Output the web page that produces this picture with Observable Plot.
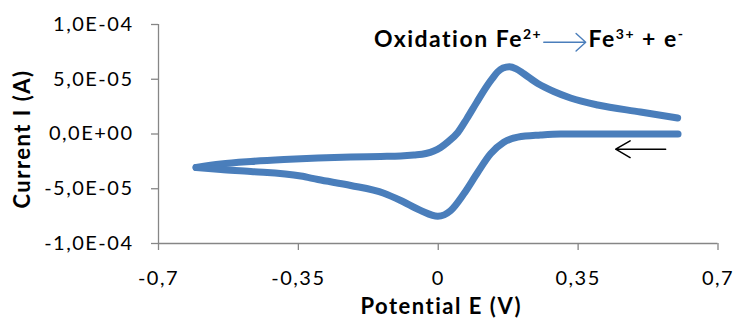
<!DOCTYPE html>
<html><head><meta charset="utf-8">
<script src="https://cdn.jsdelivr.net/npm/d3@7"></script>
<script src="https://cdn.jsdelivr.net/npm/@observablehq/plot@0.6"></script>
<style>
body{margin:0;background:#fff;}
#chart svg text{letter-spacing:1.5px;}
</style></head><body><div id="chart"></div>
<script>
// Forward (oxidation) scan, -0.6 V -> +0.6 V
const forwardE = [-0.606,-0.544,-0.469,-0.386,-0.301,-0.219,-0.144,-0.094,-0.061,-0.031,-0.011,0.006,0.024,0.049,0.071,0.096,0.121,0.135,0.148,0.162,0.178,0.195,0.214,0.249,0.289,0.331,0.399,0.506,0.599];
const forwardI = [-3.06e-5,-2.74e-5,-2.51e-5,-2.33e-5,-2.19e-5,-2.10e-5,-2.05e-5,-2.01e-5,-1.92e-5,-1.78e-5,-1.55e-5,-1.23e-5,-0.73e-5,0.14e-5,1.37e-5,2.88e-5,4.34e-5,5.05e-5,5.65e-5,6.02e-5,6.14e-5,5.95e-5,5.50e-5,4.61e-5,3.88e-5,3.29e-5,2.65e-5,2.01e-5,1.46e-5];
// Reverse (reduction) scan, +0.6 V -> -0.6 V
const reverseE = [0.600,0.506,0.406,0.306,0.256,0.199,0.164,0.131,0.099,0.064,0.031,-0.001,-0.044,-0.094,-0.136,-0.219,-0.301,-0.344,-0.469,-0.544,-0.606];
const reverseI = [0.00,0.00,0.00,0.00,-0.09e-5,-0.29e-5,-0.75e-5,-1.81e-5,-3.49e-5,-5.46e-5,-6.99e-5,-7.51e-5,-6.99e-5,-6.07e-5,-5.41e-5,-4.70e-5,-4.16e-5,-3.84e-5,-3.42e-5,-3.24e-5,-3.06e-5];

const xTicks = [-0.7,-0.35,0,0.35,0.7];
const xTickLabels = ["-0,7","-0,35","0","0,35","0,7"];
const yTicks = [-1e-4,-5e-5,0,5e-5,1e-4];
const yTickLabels = ["-1,0E-04","-5,0E-05","0,0E+00","5,0E-05","1,0E-04"];
const xTitle = "Potential E (V)";
const yTitle = "Current I (A)";
const labelE = [-0.161, 0.376];
const labelI = [7.93e-5, 7.93e-5];
const labelText = ["Oxidation Fe^{2+}", "Fe^{3+} + e^{-}"];
const reactionArrow = {E1: 0.264, E2: 0.369, I: 8.38e-5};
const scanArrow = {E1: 0.569, E2: 0.444, I: -1.39e-5};

const points = forwardE.map((E, i) => ({E, I: forwardI[i], scan: "forward"}))
  .concat(reverseE.map((E, i) => ({E, I: reverseI[i], scan: "reverse"})));
const labels = labelText.map((t, i) => ({E: labelE[i], I: labelI[i], t}));

const axisGray = "#868686";
const chart = Plot.plot({
  width: 735, height: 321,
  marginLeft: 158, marginRight: 17.5, marginTop: 24, marginBottom: 78,
  style: {fontFamily: "Lato, sans-serif", fontSize: "20px", color: "#000", background: "#fff", overflow: "visible"},
  x: {domain: [-0.7, 0.7]},
  y: {domain: [-1e-4, 1e-4]},
  marks: [
    Plot.ruleX([-0.7], {stroke: axisGray, strokeWidth: 1.3}),
    Plot.ruleY([-1e-4], {stroke: axisGray, strokeWidth: 1.3}),
    Plot.axisY({ticks: yTicks, tickFormat: d => yTickLabels[yTicks.indexOf(d)], tickSize: 7, tickPadding: 18, stroke: axisGray, strokeWidth: 1.3, fill: "#000", label: null}),
    Plot.axisX({ticks: xTicks, tickFormat: d => xTickLabels[xTicks.indexOf(d)], tickSize: 7, tickPadding: 20, stroke: axisGray, strokeWidth: 1.3, fill: "#000", label: null}),
    Plot.text([xTitle], {text: d => d, frameAnchor: "bottom", textAnchor: "middle", lineAnchor: "bottom", dx: 3, dy: 70, fontWeight: "bold", fontSize: 22, fill: "#000"}),
    Plot.text([yTitle], {text: d => d, frameAnchor: "left", textAnchor: "middle", rotate: -90, lineAnchor: "middle", dx: -136, dy: 5, fontWeight: "bold", fontSize: 22, fill: "#000"}),
    Plot.line(points, {x: "E", y: "I", z: "scan", stroke: "#4a7ebb", strokeWidth: 7, curve: "monotone-x", strokeLinecap: "round", strokeLinejoin: "round"}),
    Plot.text(labels, {x: "E", y: "I", text: "t", textAnchor: "start", lineAnchor: "bottom", fontWeight: "bold", fontSize: 23, fill: "#000"}),
    Plot.arrow([reactionArrow], {x1: "E1", x2: "E2", y1: "I", y2: "I", stroke: "#4a7ebb", strokeWidth: 1.4, headAngle: 85, headLength: 14}),
    Plot.arrow([scanArrow], {x1: "E1", x2: "E2", y1: "I", y2: "I", stroke: "#000", strokeWidth: 1.5, headAngle: 60, headLength: 20})
  ]
});
document.getElementById("chart").appendChild(chart);

// Render ^{...} as superscripts
d3.select(chart).selectAll("text").each(function() {
  const t = this.textContent;
  if (!t.includes("^{")) return;
  const sel = d3.select(this);
  sel.text("");
  const parts = t.split(/(\^\{[^}]*\})/).filter(p => p);
  let raised = false;
  for (const p of parts) {
    if (p.startsWith("^{")) {
      sel.append("tspan").attr("dy", raised ? 0 : -8).attr("font-size", 14).text(p.slice(2, -1));
      raised = true;
    } else {
      sel.append("tspan").attr("dy", raised ? 8 : 0).text(p);
      raised = false;
    }
  }
});
</script></body></html>
